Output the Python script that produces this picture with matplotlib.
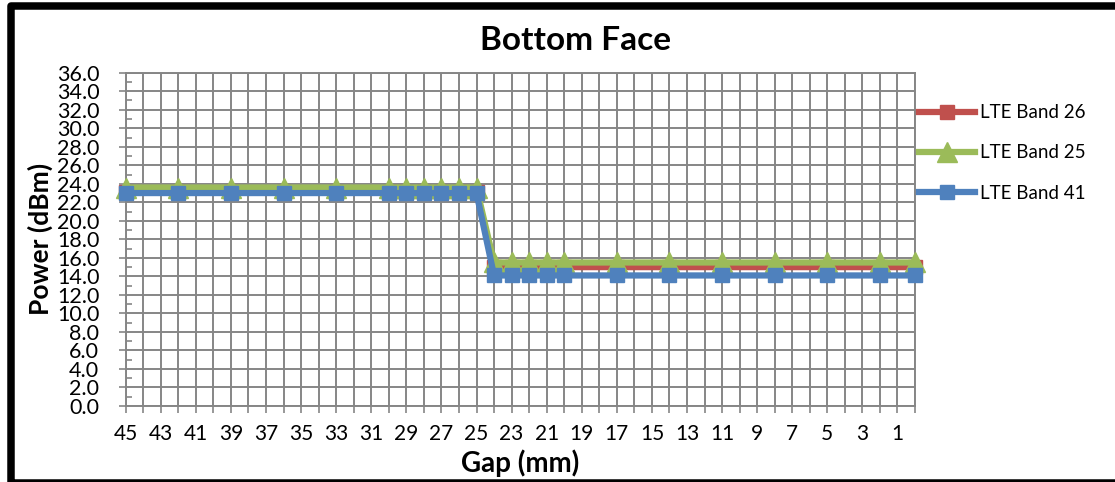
import matplotlib
matplotlib.use("Agg")
import matplotlib.pyplot as plt
from matplotlib.ticker import MultipleLocator, FixedLocator, FormatStrFormatter
from matplotlib.patches import Rectangle
from matplotlib import font_manager

# ---------------- data ----------------
gap_mm = [45, 42, 39, 36, 33, 30, 29, 28, 27, 26, 25,
          24, 23, 22, 21, 20, 17, 14, 11, 8, 5, 2, 0]
band26 = [23.1, 23.1, 23.1, 23.1, 23.1, 23.1, 23.1, 23.1, 23.1, 23.1, 23.1,
          15.0, 15.0, 15.0, 15.0, 15.0, 15.0, 15.0, 15.0, 15.0, 15.0, 15.0, 15.0]
band25 = [23.6, 23.6, 23.6, 23.6, 23.6, 23.6, 23.6, 23.6, 23.6, 23.6, 23.6,
          15.5, 15.5, 15.5, 15.5, 15.5, 15.5, 15.5, 15.5, 15.5, 15.5, 15.5, 15.5]
band41 = [23.0, 23.0, 23.0, 23.0, 23.0, 23.0, 23.0, 23.0, 23.0, 23.0, 23.0,
          14.1, 14.1, 14.1, 14.1, 14.1, 14.1, 14.1, 14.1, 14.1, 14.1, 14.1, 14.1]
series_names = ["LTE Band 26", "LTE Band 25", "LTE Band 41"]
x_tick_values = [45, 43, 41, 39, 37, 35, 33, 31, 29, 27, 25, 23,
                 21, 19, 17, 15, 13, 11, 9, 7, 5, 3, 1]
x_tick_labels = [str(v) for v in x_tick_values]
title = "Bottom Face"
xlabel = "Gap (mm)"
ylabel = "Power (dBm)"

# ---------------- style ----------------
avail = {f.name for f in font_manager.fontManager.ttflist}
fam = "Lato" if "Lato" in avail else "DejaVu Sans"
plt.rcParams["font.family"] = [fam, "DejaVu Sans"]

W, H, DPI = 1115, 482, 100
fig = plt.figure(figsize=(W / DPI, H / DPI), dpi=DPI)
fig.patch.set_facecolor("white")

# axes rectangle in pixels
x0, x1 = 125.7, 915.0
y_top, y_bot = 72.7, 406.0
ax = fig.add_axes([x0 / W, 1 - y_bot / H, (x1 - x0) / W, (y_bot - y_top) / H])

grid_c = "#868686"
red, green, blue = "#C0504D", "#9BBB59", "#4F81BD"

ax.plot(gap_mm, band26, color=red, lw=4.5, marker="s", ms=9.5,
        mec=red, mfc=red, clip_on=False, zorder=3, label=series_names[0])
ax.plot(gap_mm, band25, color=green, lw=4.5, marker="^", ms=15,
        mec=green, mfc=green, clip_on=False, zorder=4, label=series_names[1])
ax.plot(gap_mm, band41, color=blue, lw=4.5, marker="s", ms=10.5,
        mec=blue, mfc=blue, clip_on=False, zorder=5, label=series_names[2])

ax.set_xlim(45, 0)
ax.set_ylim(0, 36)

# x axis: labels on odd gaps, grid/ticks at every mm
ax.xaxis.set_major_locator(FixedLocator(x_tick_values))
ax.set_xticklabels(x_tick_labels)
ax.xaxis.set_minor_locator(MultipleLocator(1))
ax.tick_params(axis="x", which="both", direction="out", length=5, width=1.2,
               color=grid_c, labelsize=15, pad=8)

# y axis
ax.yaxis.set_major_locator(MultipleLocator(2))
ax.yaxis.set_major_formatter(FormatStrFormatter("%.1f"))
ax.yaxis.set_minor_locator(MultipleLocator(1))
ax.tick_params(axis="y", which="major", direction="out", length=5, width=1.2,
               color=grid_c, labelsize=15.5, pad=14)
ax.tick_params(axis="y", which="minor", direction="in", length=4, width=1.2,
               color=grid_c)

ax.grid(True, which="major", axis="both", color=grid_c, lw=1.4)
ax.grid(True, which="minor", axis="x", color=grid_c, lw=1.4)
ax.set_axisbelow(True)
for s in ax.spines.values():
    s.set_color(grid_c)
    s.set_linewidth(1.4)

ax.set_xlabel(xlabel, fontsize=20, fontweight="bold")
ax.xaxis.set_label_coords(0.5, -(449 - y_bot) / (y_bot - y_top))
ax.set_ylabel(ylabel, fontsize=19, fontweight="bold")
ax.yaxis.set_label_coords((53 - x0) / (x1 - x0), 0.5)

fig.text(575 / W, 1 - 40 / H, title, fontsize=24, fontweight="bold",
         ha="center", va="center")

leg = fig.legend(loc="center left", bbox_to_anchor=(919 / W, 1 - 153 / H),
                 frameon=False, fontsize=13.5, handlelength=3.0,
                 handletextpad=0.25, labelspacing=1.25, borderpad=0,
                 borderaxespad=0)

# outer chart border
fig.patches.append(Rectangle((10.7 / W, -1 / H), 1.2, (483 - 5.5) / H,
                             transform=fig.transFigure, fill=False,
                             edgecolor="black", lw=5.4, joinstyle="round"))

fig.savefig("out.png", dpi=DPI, facecolor="white")
